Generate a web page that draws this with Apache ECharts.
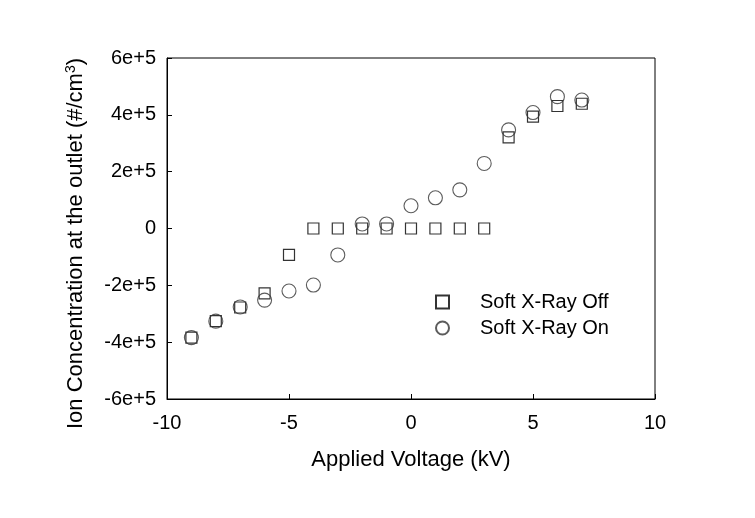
<!DOCTYPE html>
<html>
<head>
<meta charset="utf-8">
<script src="https://cdn.jsdelivr.net/npm/echarts@6/dist/echarts.min.js"></script>
<style>
  html, body { margin: 0; padding: 0; background: #fff; }
  #chart { width: 755px; height: 518px; }
</style>
</head>
<body>
<div id="chart"></div>
<script>
// applied voltage (kV)
const voltage = [-9, -8, -7, -6, -5, -4, -3, -2, -1, 0, 1, 2, 3, 4, 5, 6, 7];
// ion concentration, soft x-ray off / on
const xrayOff = [-3.84e5, -3.26e5, -2.78e5, -2.28e5, -0.93e5, 0, 0, 0, 0, 0, 0, 0, 0, 3.21e5, 3.94e5, 4.31e5, 4.39e5];
const xrayOn = [-3.84e5, -3.26e5, -2.76e5, -2.52e5, -2.20e5, -1.99e5, -0.93e5, 0.16e5, 0.16e5, 0.80e5, 1.08e5, 1.36e5, 2.29e5, 3.47e5, 4.08e5, 4.64e5, 4.52e5];

const font = 'Liberation Sans, Arial, sans-serif';

const pairs = (ys) => voltage.map((v, i) => [v, ys[i]]);

const chart = echarts.init(document.getElementById('chart'));
chart.setOption({
  animation: false,
  grid: {
    left: 167, right: 100, top: 58, bottom: 119,
    show: true, borderColor: '#000', borderWidth: 1
  },
  legend: {
    orient: 'vertical',
    left: 430, top: 287,
    itemGap: 6,
    itemWidth: 13, itemHeight: 13,
    textStyle: { fontFamily: font, fontSize: 20, color: '#000', padding: [0, 0, 0, 26] },
    data: ['Soft X-Ray Off', 'Soft X-Ray On']
  },
  xAxis: {
    type: 'value',
    min: -10, max: 10, interval: 5,
    name: 'Applied Voltage (kV)',
    nameLocation: 'middle',
    nameGap: 50,
    nameTextStyle: { fontFamily: font, fontSize: 22, color: '#000' },
    axisLine: { onZero: false, lineStyle: { color: '#000' } },
    axisTick: { inside: true, length: 5, lineStyle: { color: '#000' } },
    axisLabel: { fontFamily: font, fontSize: 20, color: '#000', margin: 14 },
    splitLine: { show: false }
  },
  yAxis: {
    type: 'value',
    min: -6e5, max: 6e5, interval: 2e5,
    name: 'Ion Concentration at the outlet (#/cm{sup|3})',
    nameLocation: 'middle',
    nameRotate: 90,
    nameGap: 80,
    nameTextStyle: {
      fontFamily: font, fontSize: 22, color: '#000',
      padding: [0, 30, 0, 0],
      rich: { sup: { fontFamily: font, fontSize: 14, color: '#000', verticalAlign: 'top', padding: [0, 0, 9, 0] } }
    },
    axisLine: { onZero: false, lineStyle: { color: '#000' } },
    axisTick: { inside: true, length: 5, lineStyle: { color: '#000' } },
    axisLabel: {
      fontFamily: font, fontSize: 20, color: '#000', margin: 11,
      formatter: (v) => v === 0 ? '0' : (v / 1e5) + 'e+5'
    },
    splitLine: { show: false }
  },
  series: [
    {
      name: 'Soft X-Ray Off',
      type: 'scatter',
      symbol: 'rect',
      symbolSize: 11,
      itemStyle: { color: 'transparent', borderColor: '#000', borderWidth: 1.2 },
      data: pairs(xrayOff)
    },
    {
      name: 'Soft X-Ray On',
      type: 'scatter',
      symbol: 'circle',
      symbolSize: 14,
      itemStyle: { color: 'transparent', borderColor: '#333', borderWidth: 1.1 },
      data: pairs(xrayOn)
    }
  ]
});
</script>
</body>
</html>
